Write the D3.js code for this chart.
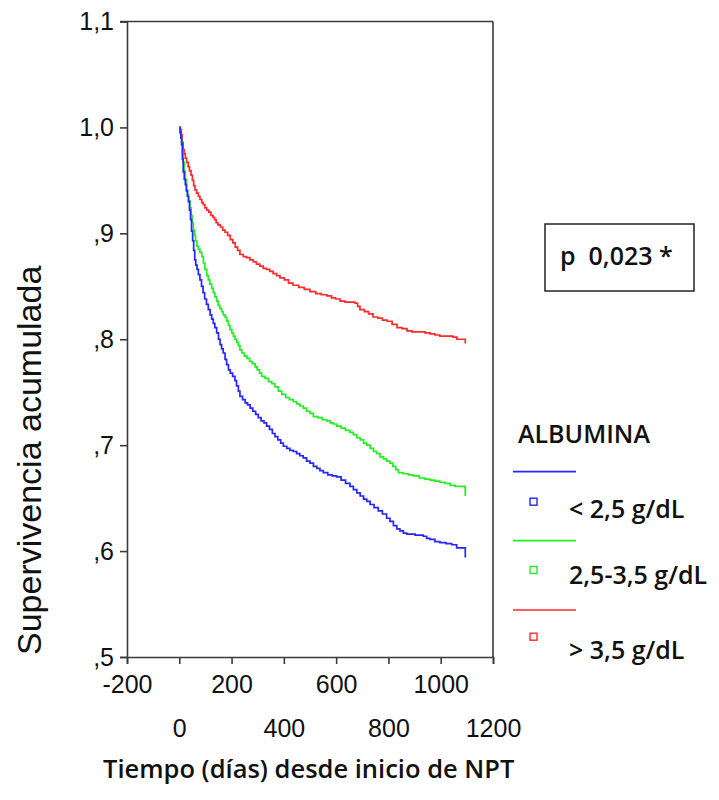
<!DOCTYPE html>
<html>
<head>
<meta charset="utf-8">
<script src="https://cdn.jsdelivr.net/npm/d3@7"></script>
<style>
  html, body { margin: 0; padding: 0; background: #fff; }
  svg { display: block; }
</style>
</head>
<body>
<svg id="chart" width="719" height="800"></svg>
<script>
// Kaplan-Meier survival by albumin level (time in days, cumulative survival)
const groupNames = ["< 2,5 g/dL", "2,5-3,5 g/dL", "> 3,5 g/dL"];
const groupColors = ["#2626ff", "#22ee22", "#ff2a2a"];

const lowTime = [0, 3, 6, 9, 12, 15, 19, 23, 27, 31, 35, 39, 43, 47, 51, 55, 59, 63, 68, 73, 79, 85, 91, 97, 104, 111, 118, 124, 130, 136, 143, 150, 156, 162, 168, 175, 181, 188, 195, 204, 213, 219, 226, 232, 242, 252, 261, 271, 281, 292, 302, 313, 324, 334, 345, 356, 366, 377, 388, 398, 411, 423, 436, 449, 461, 474, 487, 500, 513, 526, 538, 551, 568, 585, 602, 619, 636, 653, 666, 679, 692, 705, 717, 730, 745, 761, 777, 793, 806, 819, 832, 844, 857, 870, 902, 933, 946, 959, 978, 997, 1020, 1042, 1061, 1093, 1094];
const lowSurv = [1.0, 0.995, 0.990, 0.984, 0.970, 0.958, 0.951, 0.946, 0.940, 0.935, 0.930, 0.922, 0.913, 0.902, 0.893, 0.884, 0.875, 0.870, 0.866, 0.861, 0.856, 0.850, 0.844, 0.838, 0.833, 0.828, 0.823, 0.819, 0.815, 0.811, 0.806, 0.800, 0.795, 0.791, 0.787, 0.781, 0.776, 0.771, 0.768, 0.765, 0.761, 0.756, 0.751, 0.746, 0.743, 0.740, 0.738, 0.735, 0.732, 0.729, 0.726, 0.723, 0.721, 0.718, 0.715, 0.711, 0.708, 0.705, 0.702, 0.699, 0.697, 0.695, 0.694, 0.692, 0.690, 0.688, 0.685, 0.683, 0.680, 0.678, 0.676, 0.674, 0.672, 0.671, 0.670, 0.667, 0.664, 0.661, 0.658, 0.655, 0.652, 0.649, 0.647, 0.644, 0.641, 0.638, 0.635, 0.631, 0.628, 0.624, 0.621, 0.619, 0.617, 0.616, 0.615, 0.614, 0.612, 0.611, 0.609, 0.608, 0.607, 0.606, 0.603, 0.603, 0.594];

const midTime = [0, 3, 6, 9, 12, 15, 19, 23, 28, 32, 36, 41, 45, 49, 54, 58, 62, 67, 73, 79, 86, 92, 98, 105, 111, 117, 124, 130, 136, 143, 149, 155, 162, 168, 175, 181, 188, 194, 201, 207, 213, 220, 226, 232, 239, 249, 259, 269, 279, 290, 298, 307, 315, 328, 341, 354, 366, 379, 392, 407, 421, 436, 449, 461, 474, 487, 500, 513, 530, 547, 564, 577, 589, 602, 619, 636, 653, 666, 679, 692, 705, 717, 730, 743, 755, 768, 781, 793, 806, 817, 828, 838, 857, 876, 895, 918, 940, 959, 978, 997, 1016, 1036, 1055, 1093, 1094];
const midSurv = [1.0, 0.995, 0.990, 0.983, 0.975, 0.967, 0.959, 0.951, 0.941, 0.936, 0.931, 0.924, 0.917, 0.910, 0.903, 0.898, 0.893, 0.888, 0.885, 0.882, 0.878, 0.872, 0.866, 0.860, 0.856, 0.852, 0.848, 0.844, 0.840, 0.836, 0.832, 0.829, 0.826, 0.823, 0.821, 0.817, 0.813, 0.809, 0.806, 0.803, 0.800, 0.797, 0.794, 0.790, 0.787, 0.784, 0.782, 0.779, 0.777, 0.774, 0.771, 0.768, 0.765, 0.763, 0.760, 0.758, 0.755, 0.751, 0.748, 0.745, 0.743, 0.741, 0.739, 0.737, 0.735, 0.732, 0.730, 0.727, 0.726, 0.724, 0.723, 0.721, 0.720, 0.718, 0.716, 0.714, 0.712, 0.710, 0.707, 0.705, 0.702, 0.700, 0.697, 0.694, 0.692, 0.689, 0.687, 0.685, 0.683, 0.680, 0.677, 0.674, 0.673, 0.672, 0.671, 0.669, 0.668, 0.667, 0.666, 0.665, 0.664, 0.662, 0.661, 0.660, 0.652];

const highTime = [0, 4, 8, 11, 15, 19, 23, 28, 34, 39, 45, 50, 55, 60, 66, 73, 79, 86, 92, 98, 105, 113, 121, 129, 135, 141, 148, 157, 166, 175, 185, 195, 205, 214, 223, 232, 245, 257, 270, 283, 295, 308, 321, 333, 346, 359, 372, 385, 402, 418, 435, 457, 478, 500, 522, 543, 565, 582, 598, 615, 634, 653, 672, 682, 691, 708, 724, 741, 759, 777, 795, 814, 833, 852, 871, 890, 915, 940, 959, 978, 997, 1022, 1047, 1062, 1093, 1094];
const highSurv = [1.0, 0.998, 0.993, 0.986, 0.979, 0.975, 0.971, 0.967, 0.963, 0.959, 0.955, 0.950, 0.945, 0.941, 0.938, 0.935, 0.932, 0.929, 0.927, 0.924, 0.922, 0.920, 0.917, 0.915, 0.913, 0.910, 0.908, 0.906, 0.903, 0.901, 0.898, 0.894, 0.891, 0.887, 0.884, 0.880, 0.878, 0.877, 0.875, 0.873, 0.871, 0.869, 0.867, 0.866, 0.864, 0.862, 0.860, 0.858, 0.856, 0.853, 0.851, 0.849, 0.847, 0.845, 0.843, 0.842, 0.841, 0.839, 0.838, 0.836, 0.835, 0.835, 0.834, 0.831, 0.828, 0.826, 0.824, 0.821, 0.820, 0.818, 0.817, 0.814, 0.811, 0.810, 0.808, 0.807, 0.807, 0.806, 0.805, 0.804, 0.803, 0.803, 0.802, 0.800, 0.800, 0.796];

const xTicks = [-200, 0, 200, 400, 600, 800, 1000, 1200];
const yTicks = [0.5, 0.6, 0.7, 0.8, 0.9, 1.0, 1.1];
const yTickLabels = [",5", ",6", ",7", ",8", ",9", "1,0", "1,1"];

const pValueText = "p  0,023 *";
const legendTitle = "ALBUMINA";

const svg = d3.select("#chart");
const plotLeft = 127, plotRight = 493, plotTop = 21.5, plotBottom = 657;

const x = d3.scaleLinear().domain([-200, 1200]).range([plotLeft, plotRight]);
const y = d3.scaleLinear().domain([0.5, 1.1]).range([plotBottom, plotTop]);

const axisColor = "#3a3a3a";
const tickFont = "'Liberation Sans', Arial, sans-serif";
const boldFont = "'Open Sans', 'Noto Sans', sans-serif";
const boldSize = 25;

// frame: top and right edges
svg.append("line").attr("x1", 120).attr("x2", plotRight).attr("y1", plotTop).attr("y2", plotTop)
  .attr("stroke", axisColor).attr("stroke-width", 1.6);
svg.append("line").attr("x1", plotRight).attr("x2", plotRight).attr("y1", plotTop).attr("y2", plotBottom)
  .attr("stroke", axisColor).attr("stroke-width", 1.6);

// y axis
const yAxis = svg.append("g").attr("transform", `translate(${plotLeft},0)`)
  .call(d3.axisLeft(y).tickValues(yTicks).tickSize(7)
    .tickFormat((d, i) => yTickLabels[i]));
yAxis.selectAll("path.domain").attr("stroke", axisColor).attr("stroke-width", 1.6);
yAxis.selectAll(".tick line").attr("stroke", axisColor).attr("stroke-width", 1.6);
yAxis.selectAll(".tick text").attr("font-family", tickFont).attr("font-size", 25)
  .attr("fill", "#111").attr("x", -13);

// x axis with staggered labels (plain hyphen for negatives)
const xAxis = svg.append("g").attr("transform", `translate(0,${plotBottom})`)
  .call(d3.axisBottom(x).tickValues(xTicks).tickSize(7).tickFormat(d => String(d)));
xAxis.selectAll("path.domain").attr("stroke", axisColor).attr("stroke-width", 1.6);
xAxis.selectAll(".tick line").attr("stroke", axisColor).attr("stroke-width", 1.6);
xAxis.selectAll(".tick text").attr("font-family", tickFont).attr("font-size", 25)
  .attr("fill", "#111").attr("dy", null)
  .attr("y", (d, i) => i % 2 === 0 ? 36 : 80);

// survival curves
const series = [
  { times: lowTime, surv: lowSurv, color: groupColors[0] },
  { times: midTime, surv: midSurv, color: groupColors[1] },
  { times: highTime, surv: highSurv, color: groupColors[2] }
];
const line = d3.line().curve(d3.curveStepAfter)
  .x(d => x(d[0])).y(d => y(d[1]));
svg.append("g").selectAll("path").data(series.slice().reverse()).join("path")
  .attr("d", s => line(s.times.map((t, i) => [t, s.surv[i]])))
  .attr("fill", "none").attr("stroke", s => s.color).attr("stroke-width", 1.7);

// axis titles
svg.append("text")
  .attr("transform", "translate(41,655) rotate(-90)")
  .attr("font-family", tickFont).attr("font-size", 34).attr("fill", "#111")
  .text("Supervivencia acumulada");

svg.append("text").attr("x", 103).attr("y", 778)
  .attr("font-family", boldFont).attr("font-weight", 600).attr("font-size", 25.5)
  .attr("fill", "#111")
  .text("Tiempo (días) desde inicio de NPT");

// p-value box
svg.append("rect").attr("x", 545).attr("y", 224).attr("width", 149).attr("height", 67)
  .attr("fill", "#fff").attr("stroke", "#222").attr("stroke-width", 1.5);
svg.append("text").attr("x", 560).attr("y", 265)
  .attr("font-family", boldFont).attr("font-weight", 600).attr("font-size", boldSize)
  .attr("fill", "#111").style("white-space", "pre")
  .text(pValueText);

// legend
const legend = svg.append("g");
legend.append("text").attr("x", 518).attr("y", 443)
  .attr("font-family", boldFont).attr("font-weight", 600).attr("font-size", boldSize)
  .attr("fill", "#111").text(legendTitle);
const lineYs = [471.7, 540.7, 610];
const boxYs = [501.7, 570, 636.7];
const labelYs = [518, 584, 659];
groupNames.forEach((name, i) => {
  legend.append("line").attr("x1", 513).attr("x2", 576)
    .attr("y1", lineYs[i]).attr("y2", lineYs[i])
    .attr("stroke", groupColors[i]).attr("stroke-width", 1.7);
  legend.append("rect").attr("x", 530).attr("y", boxYs[i] - 3.5)
    .attr("width", 7).attr("height", 7).attr("fill", "#fff")
    .attr("stroke", groupColors[i]).attr("stroke-width", 1.4);
  legend.append("text").attr("x", 569).attr("y", labelYs[i])
    .attr("font-family", boldFont).attr("font-weight", 600).attr("font-size", boldSize)
    .attr("fill", "#111").text(name);
});
</script>
</body>
</html>
